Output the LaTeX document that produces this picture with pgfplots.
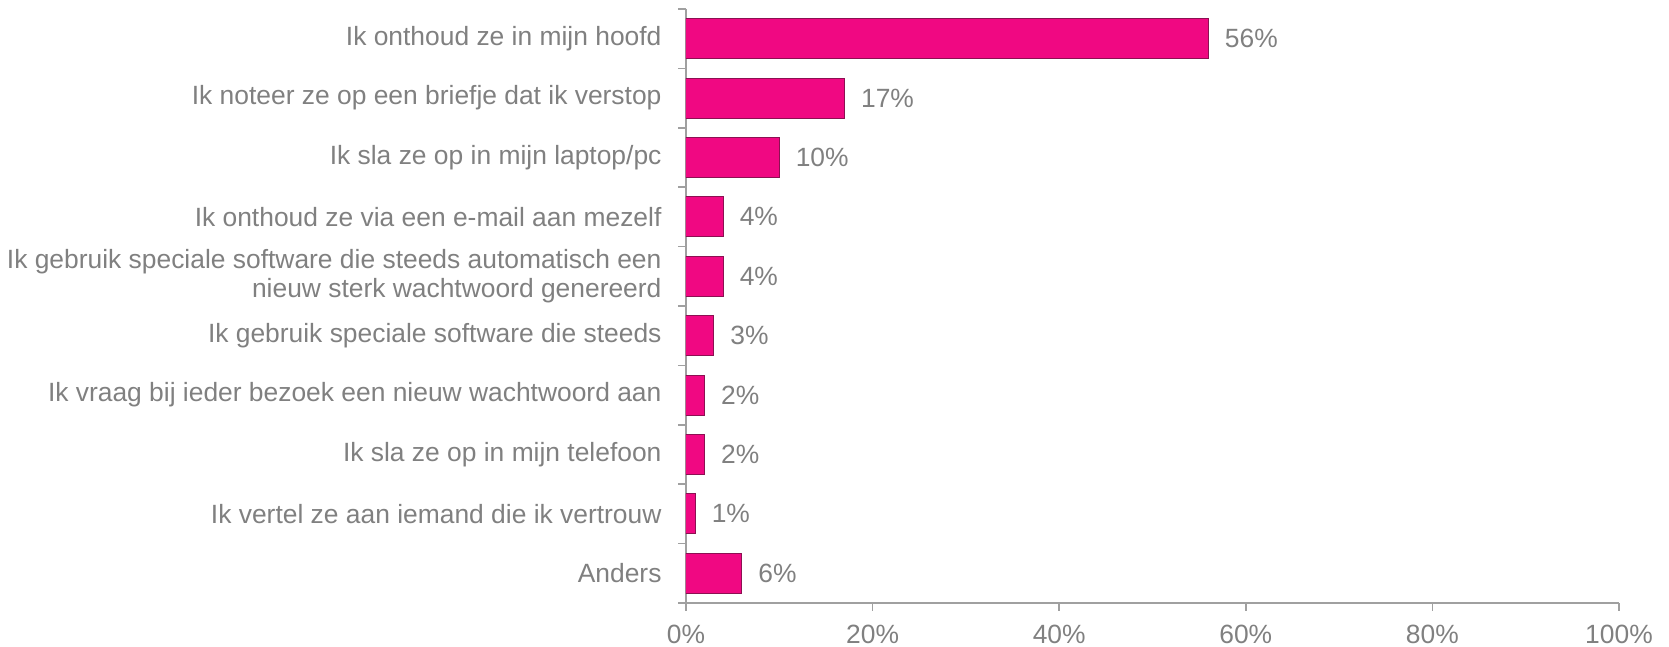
\documentclass[border=0pt]{standalone}
\usepackage{fontspec}
\setmainfont{Liberation Sans}
\usepackage{pgfplots}
\pgfplotsset{compat=1.18}

\definecolor{barpink}{RGB}{240,8,130}
\definecolor{bardark}{RGB}{140,16,82}
\definecolor{axisgray}{RGB}{160,160,160}
\definecolor{textgray}{RGB}{128,128,128}

\begin{document}
\begin{tikzpicture}
\begin{axis}[
  xbar,
  scale only axis,
  width=933bp, height=594bp,
  xmin=0, xmax=100,
  ymin=-0.5, ymax=9.5,
  y dir=reverse,
  bar width=40bp,
  axis x line*=bottom,
  axis y line*=left,
  axis line style={draw=axisgray, line width=1.5bp},
  tick align=outside,
  major tick length=8bp,
  minor tick length=8bp,
  tick style={draw=axisgray, line width=1.5bp},
  major y tick style={draw=none},
  xtick={0,20,...,100},
  xticklabel={\pgfmathprintnumber{\tick}\%},
  ytick={0,...,9},
  minor ytick={-0.5,0.5,...,9.5},
  yticklabels={
    Ik onthoud ze in mijn hoofd,
    Ik noteer ze op een briefje dat ik verstop,
    Ik sla ze op in mijn laptop/pc,
    Ik onthoud ze via een e-mail aan mezelf,
    {Ik gebruik speciale software die steeds automatisch een\\nieuw sterk wachtwoord genereerd},
    Ik gebruik speciale software die steeds,
    Ik vraag bij ieder bezoek een nieuw wachtwoord aan,
    Ik sla ze op in mijn telefoon,
    Ik vertel ze aan iemand die ik vertrouw,
    Anders},
  y tick label style={align=right, xshift=-13bp},
  x tick label style={yshift=-11bp},
  ticklabel style={font=\fontsize{26.5}{29}\selectfont, text=textgray},
  /pgf/number format/assume math mode=true,
  nodes near coords={\pgfmathprintnumber{\pgfplotspointmeta}\%},
  nodes near coords style={font=\fontsize{26.5}{29}\selectfont, text=textgray, inner sep=0pt, anchor=west, xshift=16bp},
]
\addplot[fill=barpink, draw=bardark, line width=1bp] coordinates {
  (56,0) (17,1) (10,2) (4,3) (4,4) (3,5) (2,6) (2,7) (1,8) (6,9)
};
\end{axis}
\pgfresetboundingbox
\path ([xshift=-686bp,yshift=-44bp]current axis.south west) rectangle ([xshift=50bp,yshift=9bp]current axis.north east);
\end{tikzpicture}
\end{document}
